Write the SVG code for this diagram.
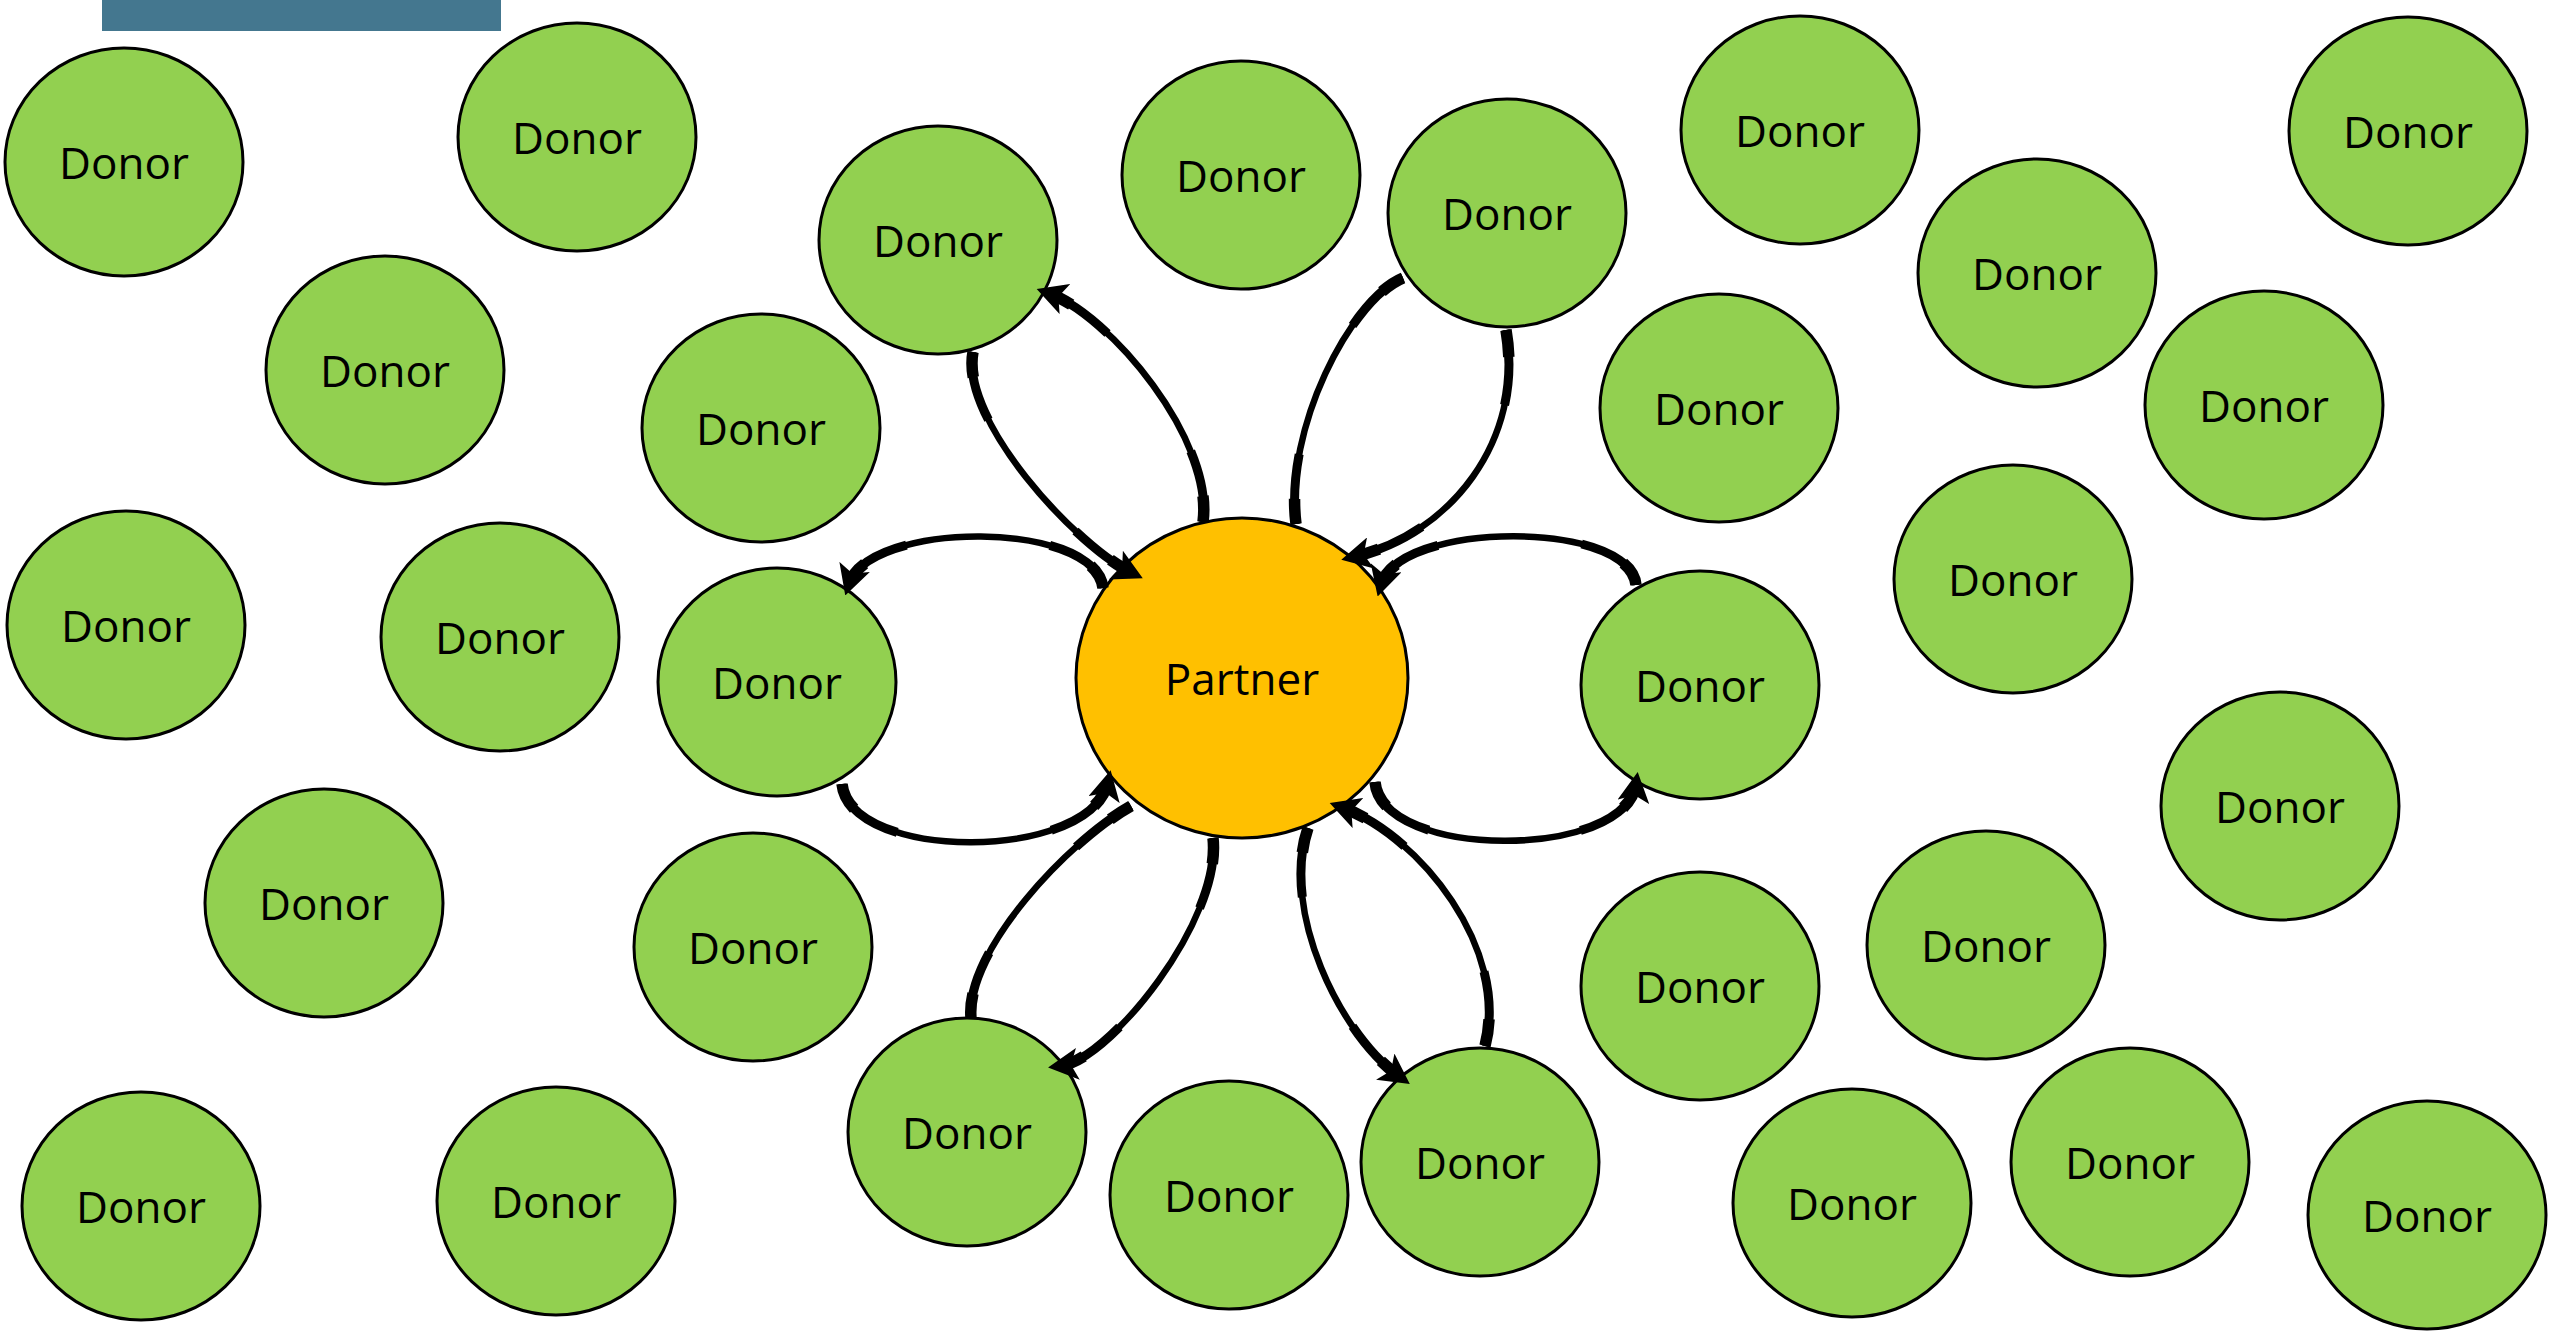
<svg xmlns="http://www.w3.org/2000/svg" width="2560" height="1332" viewBox="0 0 2560 1332">
<defs>
<marker id="ah" markerUnits="userSpaceOnUse" markerWidth="30" markerHeight="32" viewBox="0 0 30 32" refX="18" refY="16" orient="auto"><path d="M0,0 L30,16 L0,32 L7,16 z" fill="#000"/></marker>
<style>
.donor ellipse{fill:#92D050;stroke:#000;stroke-width:3}
.partner ellipse{fill:#FFC000;stroke:#000;stroke-width:3}
text{font-family:"Open Sans","Liberation Sans",sans-serif;font-size:44px;fill:#000;text-anchor:middle}
.c{fill:none;stroke:#000;stroke-width:6.5}
.h{marker-end:url(#ah)}
.t{fill:none;stroke:#000;stroke-width:9;stroke-dasharray:25 50 25}
.u{fill:none;stroke:#000;stroke-width:11.5;stroke-dasharray:9 82 9}
</style>
</defs>
<rect x="102" y="0" width="399" height="31" fill="#44778F"/>
<g id="nodes">
<g id="donor1" class="donor"><ellipse cx="124" cy="162" rx="119" ry="114"/><text x="124" y="179">Donor</text></g>
<g id="donor2" class="donor"><ellipse cx="577" cy="137" rx="119" ry="114"/><text x="577" y="154">Donor</text></g>
<g id="donor3" class="donor"><ellipse cx="385" cy="370" rx="119" ry="114"/><text x="385" y="387">Donor</text></g>
<g id="donor4" class="donor"><ellipse cx="126" cy="625" rx="119" ry="114"/><text x="126" y="642">Donor</text></g>
<g id="donor5" class="donor"><ellipse cx="500" cy="637" rx="119" ry="114"/><text x="500" y="654">Donor</text></g>
<g id="donor6" class="donor"><ellipse cx="324" cy="903" rx="119" ry="114"/><text x="324" y="920">Donor</text></g>
<g id="donor7" class="donor"><ellipse cx="141" cy="1206" rx="119" ry="114"/><text x="141" y="1223">Donor</text></g>
<g id="donor8" class="donor"><ellipse cx="556" cy="1201" rx="119" ry="114"/><text x="556" y="1218">Donor</text></g>
<g id="donor9" class="donor"><ellipse cx="938" cy="240" rx="119" ry="114"/><text x="938" y="257">Donor</text></g>
<g id="donor10" class="donor"><ellipse cx="1241" cy="175" rx="119" ry="114"/><text x="1241" y="192">Donor</text></g>
<g id="donor11" class="donor"><ellipse cx="1507" cy="213" rx="119" ry="114"/><text x="1507" y="230">Donor</text></g>
<g id="donor12" class="donor"><ellipse cx="761" cy="428" rx="119" ry="114"/><text x="761" y="445">Donor</text></g>
<g id="donor13" class="donor"><ellipse cx="777" cy="682" rx="119" ry="114"/><text x="777" y="699">Donor</text></g>
<g id="donor14" class="donor"><ellipse cx="753" cy="947" rx="119" ry="114"/><text x="753" y="964">Donor</text></g>
<g id="donor15" class="donor"><ellipse cx="967" cy="1132" rx="119" ry="114"/><text x="967" y="1149">Donor</text></g>
<g id="donor16" class="donor"><ellipse cx="1229" cy="1195" rx="119" ry="114"/><text x="1229" y="1212">Donor</text></g>
<g id="donor17" class="donor"><ellipse cx="1480" cy="1162" rx="119" ry="114"/><text x="1480" y="1179">Donor</text></g>
<g id="donor18" class="donor"><ellipse cx="1800" cy="130" rx="119" ry="114"/><text x="1800" y="147">Donor</text></g>
<g id="donor19" class="donor"><ellipse cx="2037" cy="273" rx="119" ry="114"/><text x="2037" y="290">Donor</text></g>
<g id="donor20" class="donor"><ellipse cx="1719" cy="408" rx="119" ry="114"/><text x="1719" y="425">Donor</text></g>
<g id="donor21" class="donor"><ellipse cx="2408" cy="131" rx="119" ry="114"/><text x="2408" y="148">Donor</text></g>
<g id="donor22" class="donor"><ellipse cx="2264" cy="405" rx="119" ry="114"/><text x="2264" y="422">Donor</text></g>
<g id="donor23" class="donor"><ellipse cx="2013" cy="579" rx="119" ry="114"/><text x="2013" y="596">Donor</text></g>
<g id="donor24" class="donor"><ellipse cx="1700" cy="685" rx="119" ry="114"/><text x="1700" y="702">Donor</text></g>
<g id="donor25" class="donor"><ellipse cx="2280" cy="806" rx="119" ry="114"/><text x="2280" y="823">Donor</text></g>
<g id="donor26" class="donor"><ellipse cx="1986" cy="945" rx="119" ry="114"/><text x="1986" y="962">Donor</text></g>
<g id="donor27" class="donor"><ellipse cx="1700" cy="986" rx="119" ry="114"/><text x="1700" y="1003">Donor</text></g>
<g id="donor28" class="donor"><ellipse cx="1852" cy="1203" rx="119" ry="114"/><text x="1852" y="1220">Donor</text></g>
<g id="donor29" class="donor"><ellipse cx="2130" cy="1162" rx="119" ry="114"/><text x="2130" y="1179">Donor</text></g>
<g id="donor30" class="donor"><ellipse cx="2427" cy="1215" rx="119" ry="114"/><text x="2427" y="1232">Donor</text></g>
<g id="partner" class="partner"><ellipse cx="1242" cy="678" rx="166" ry="160"/><text x="1242" y="695">Partner</text></g>
</g>
<g id="connectors">
<g><path class="c h" d="M1203,522 C1214,440 1110,315 1048,293"/><path class="t" pathLength="100" d="M1203,522 C1214,440 1110,315 1048,293"/><path class="u" pathLength="100" d="M1203,522 C1214,440 1110,315 1048,293"/></g>
<g><path class="c h" d="M973,352 C960,420 1075,545 1132,573"/><path class="t" pathLength="100" d="M973,352 C960,420 1075,545 1132,573"/><path class="u" pathLength="100" d="M973,352 C960,420 1075,545 1132,573"/></g>
<g><path class="c" d="M1296,524 C1284,430 1350,300 1403,278"/><path class="t" pathLength="100" d="M1296,524 C1284,430 1350,300 1403,278"/><path class="u" pathLength="100" d="M1296,524 C1284,430 1350,300 1403,278"/></g>
<g><path class="c h" d="M1506,330 C1525,440 1450,535 1353,557"/><path class="t" pathLength="100" d="M1506,330 C1525,440 1450,535 1353,557"/><path class="u" pathLength="100" d="M1506,330 C1525,440 1450,535 1353,557"/></g>
<g><path class="c h" d="M1103,588 C1095,520 870,520 849,584"/><path class="t" pathLength="100" d="M1103,588 C1095,520 870,520 849,584"/><path class="u" pathLength="100" d="M1103,588 C1095,520 870,520 849,584"/></g>
<g><path class="c h" d="M842,784 C850,862 1090,862 1108,782"/><path class="t" pathLength="100" d="M842,784 C850,862 1090,862 1108,782"/><path class="u" pathLength="100" d="M842,784 C850,862 1090,862 1108,782"/></g>
<g><path class="c h" d="M1636,585 C1630,520 1400,520 1381,585"/><path class="t" pathLength="100" d="M1636,585 C1630,520 1400,520 1381,585"/><path class="u" pathLength="100" d="M1636,585 C1630,520 1400,520 1381,585"/></g>
<g><path class="c h" d="M1375,782 C1382,860 1625,860 1636,784"/><path class="t" pathLength="100" d="M1375,782 C1382,860 1625,860 1636,784"/><path class="u" pathLength="100" d="M1375,782 C1382,860 1625,860 1636,784"/></g>
<g><path class="c" d="M971,1018 C965,950 1070,840 1131,806"/><path class="t" pathLength="100" d="M971,1018 C965,950 1070,840 1131,806"/><path class="u" pathLength="100" d="M971,1018 C965,950 1070,840 1131,806"/></g>
<g><path class="c h" d="M1213,838 C1222,920 1110,1060 1060,1066"/><path class="t" pathLength="100" d="M1213,838 C1222,920 1110,1060 1060,1066"/><path class="u" pathLength="100" d="M1213,838 C1222,920 1110,1060 1060,1066"/></g>
<g><path class="c h" d="M1308,828 C1280,910 1340,1035 1400,1077"/><path class="t" pathLength="100" d="M1308,828 C1280,910 1340,1035 1400,1077"/><path class="u" pathLength="100" d="M1308,828 C1280,910 1340,1035 1400,1077"/></g>
<g><path class="c h" d="M1485,1046 C1510,950 1420,835 1341,807"/><path class="t" pathLength="100" d="M1485,1046 C1510,950 1420,835 1341,807"/><path class="u" pathLength="100" d="M1485,1046 C1510,950 1420,835 1341,807"/></g>
</g>
</svg>
